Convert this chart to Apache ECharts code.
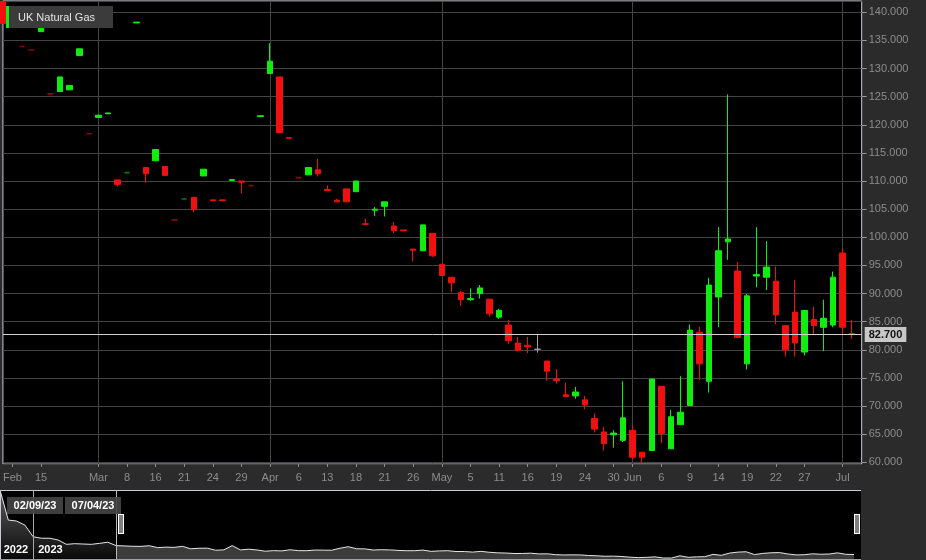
<!DOCTYPE html>
<html>
<head>
<meta charset="utf-8">
<script src="https://cdn.jsdelivr.net/npm/echarts@6/dist/echarts.min.js"></script>
<style>
html,body{margin:0;padding:0;background:#2b2b2b;}
#c{width:926px;height:560px;}
</style>
</head>
<body>
<div id="c"></div>
<script>
// ---------------- DATA ----------------
const seriesName = 'UK Natural Gas';

const dates = [
 '2023-02-09','2023-02-10','2023-02-13','2023-02-14','2023-02-15','2023-02-16','2023-02-20','2023-02-22','2023-02-24','2023-02-28',
 '2023-03-01','2023-03-02','2023-03-06','2023-03-08','2023-03-10','2023-03-14','2023-03-16','2023-03-17','2023-03-20','2023-03-21',
 '2023-03-22','2023-03-23','2023-03-24','2023-03-27','2023-03-28','2023-03-29','2023-03-30','2023-03-31','2023-04-03','2023-04-04',
 '2023-04-05','2023-04-06','2023-04-11','2023-04-12','2023-04-13','2023-04-14','2023-04-17','2023-04-18','2023-04-19','2023-04-20',
 '2023-04-21','2023-04-24','2023-04-25','2023-04-26','2023-04-27','2023-04-28','2023-05-02','2023-05-03','2023-05-04','2023-05-05',
 '2023-05-09','2023-05-10','2023-05-11','2023-05-12','2023-05-15','2023-05-16','2023-05-17','2023-05-18','2023-05-19','2023-05-22',
 '2023-05-23','2023-05-24','2023-05-25','2023-05-26','2023-05-30','2023-05-31','2023-06-01','2023-06-02','2023-06-05','2023-06-06',
 '2023-06-07','2023-06-08','2023-06-09','2023-06-12','2023-06-13','2023-06-14','2023-06-15','2023-06-16','2023-06-19','2023-06-20',
 '2023-06-21','2023-06-22','2023-06-23','2023-06-26','2023-06-27','2023-06-28','2023-06-29','2023-06-30','2023-07-03','2023-07-04',
 '2023-07-05'
];

const opens = [
 141.9,null,133.9,133.3,136.55,125.5,125.9,126.2,132.3,118.4,
 121.3,121.95,110.2,111.5,138.1,112.4,113.6,112.6,103.1,106.8,
 107.1,110.9,106.65,106.65,110.1,110.0,109.2,121.45,129.1,128.5,
 117.7,110.6,111.1,112.0,108.5,106.6,108.6,108.1,102.4,104.8,
 105.5,102.0,101.3,97.9,97.6,100.7,95.2,92.9,90.2,88.9,
 90.0,89.0,85.8,84.4,81.2,80.8,80.1,78.0,74.8,72.0,
 71.8,71.1,67.8,65.4,64.9,63.9,65.7,61.8,62.1,73.5,
 62.4,66.7,70.1,83.1,74.4,89.4,99.2,94.0,77.5,93.1,
 92.9,92.2,84.3,86.7,79.6,85.4,84.0,84.4,97.2,82.9,
 null
];
const closes = [
 138.0,null,133.9,133.3,137.35,125.5,128.5,127.0,133.5,118.4,
 121.7,122.1,109.4,111.5,138.25,111.3,115.6,111.0,103.1,106.8,
 105.0,112.1,106.5,106.5,110.25,109.8,109.2,121.6,131.3,118.6,
 117.6,110.6,112.4,111.3,108.3,106.3,106.3,110.0,102.3,105.0,
 106.3,101.2,101.15,97.7,102.2,96.7,93.2,91.9,88.9,89.1,
 91.0,86.4,87.0,81.6,79.9,80.5,80.1,76.2,74.5,71.7,
 72.5,70.2,65.9,63.3,65.2,67.9,60.9,60.9,74.8,65.1,
 68.1,68.9,83.5,77.5,91.5,97.6,99.7,82.2,89.6,93.4,
 94.7,86.2,80.0,81.2,87.0,84.3,85.6,92.9,84.0,82.7,
 null
];
const lows = [
 138.0,null,133.9,133.3,136.55,125.5,125.9,126.2,132.3,118.4,
 121.3,121.95,109.0,111.5,138.1,109.7,113.6,111.0,103.1,106.8,
 104.4,110.9,106.5,106.5,110.1,107.8,109.2,121.45,129.1,118.6,
 117.6,110.6,111.1,110.8,108.3,106.3,106.3,108.1,102.3,103.8,
 103.7,100.7,101.15,95.7,97.6,96.5,93.2,90.2,87.8,88.7,
 89.1,85.9,85.5,81.0,79.7,79.4,79.5,74.5,74.0,71.6,
 71.3,69.4,65.3,62.1,62.6,63.6,60.5,59.9,62.1,63.4,
 62.4,66.7,70.1,74.6,72.4,84.0,96.0,82.2,76.5,91.1,
 90.6,84.5,78.8,78.8,79.0,82.6,79.8,84.0,82.8,81.9,
 null
];
const highs = [
 141.9,null,133.9,133.3,137.35,125.5,128.5,127.0,133.5,118.4,
 121.7,122.1,110.2,111.5,138.25,112.4,115.6,112.6,103.1,106.8,
 107.1,112.1,106.65,106.65,110.25,110.0,109.2,121.6,134.5,128.5,
 117.7,110.6,112.4,113.9,109.2,106.8,108.6,110.0,103.3,105.4,
 106.3,102.7,101.3,97.9,102.2,100.7,95.2,92.9,90.5,90.9,
 91.5,89.0,87.3,85.3,82.3,82.3,82.6,78.0,76.6,74.1,
 73.4,71.8,68.7,66.3,65.7,74.4,66.5,61.8,74.8,73.5,
 69.3,75.3,84.5,84.1,92.8,101.8,125.4,95.6,89.9,101.8,
 99.3,94.8,84.3,92.4,87.0,87.6,88.9,93.9,97.9,85.3,
 null
];

// x-axis tick labels (date -> text)
const xTickDates = [
 '2023-02-10','2023-02-15','2023-03-01','2023-03-08','2023-03-16','2023-03-21','2023-03-24','2023-03-29',
 '2023-04-03','2023-04-06','2023-04-13','2023-04-18','2023-04-21','2023-04-26','2023-05-02','2023-05-05',
 '2023-05-11','2023-05-16','2023-05-19','2023-05-24','2023-05-30','2023-06-01','2023-06-06','2023-06-09',
 '2023-06-14','2023-06-19','2023-06-22','2023-06-27','2023-07-03'
];
const xTickLabels = [
 'Feb','15','Mar','8','16','21','24','29',
 'Apr','6','13','18','21','26','May','5',
 '11','16','19','24','30','Jun','6','9',
 '14','19','22','27','Jul'
];

// navigator history before the visible window
const navHistoryDates = [
 '2022-08-26','2022-09-28','2022-10-27','2022-11-29',
 '2023-01-04','2023-01-06','2023-01-11','2023-01-13','2023-01-18','2023-01-20','2023-01-25','2023-01-27','2023-02-01','2023-02-06'
];
const navHistory = [484, 297, 291, 266, 193, 184, 184, 173, 146, 150, 148, 146, 152, 159];

// ---------------- STYLE ----------------
const FONT = "'Liberation Sans', Arial, sans-serif";
const UP = '#10ee10', DOWN = '#f01010';
const DARK_UP = '#0a7a0a', DARK_DOWN = '#8a0a0a', DOJI = '#a0a0a0';
const GRID_LINE = '#444444';
const BORDER = '#c9ccd6';
const AXIS_TEXT = '#8c8c8c';

// ---------------- BUILD ----------------
const candleData = dates.map((d, i) => {
  if (opens[i] == null) return ['-', '-', '-', '-'];
  const o = opens[i], c = closes[i], l = lows[i], h = highs[i];
  const item = { value: [o, c, l, h] };
  if (o === c) {
    let col, bw = 1;
    if (h === l) {
      let prev = null;
      for (let j = i - 1; j >= 0; j--) { if (closes[j] != null) { prev = closes[j]; break; } }
      col = (prev != null && c >= prev) ? DARK_UP : DARK_DOWN;
      bw = 1.6;
    } else {
      col = DOJI;
    }
    item.itemStyle = { color: col, color0: col, borderColor: col, borderColor0: col, borderWidth: bw };
  }
  return item;
});

let lastIdx = closes.length - 1;
while (closes[lastIdx] == null) lastIdx--;
const lastClose = closes[lastIdx];

const isTick = (idx, val) => xTickDates.indexOf(val) >= 0;
const tickText = (val) => { const k = xTickDates.indexOf(val); return k >= 0 ? xTickLabels[k] : ''; };
const isMonthStart = (idx, val) => idx > 0 && dates[idx - 1].slice(5, 7) !== val.slice(5, 7);

// navigator: history + visible window closes (through last traded day)
const windowDates = dates.slice(0, lastIdx + 1);
const windowCloses = closes.slice(0, lastIdx + 1);
const navDates = navHistoryDates.concat(windowDates);
const nH = navHistory.length;
const navEarlyData = navDates.map((d, i) => i < nH ? navHistory[i] : (i === nH ? windowCloses[0] : '-'));
const navWindowData = navDates.map((d, i) => i < nH ? '-' : (windowCloses[i - nH] == null ? '-' : windowCloses[i - nH]));

const fmtDate = s => s.slice(5, 7) + '/' + s.slice(8, 10) + '/' + s.slice(2, 4);

const chart = echarts.init(document.getElementById('c'), null, { renderer: 'canvas' });

const option = {
  backgroundColor: '#2b2b2b',
  animation: false,
  textStyle: { fontFamily: FONT },
  grid: [
    { left: 1, right: 64.3, top: 1, bottom: 96, show: true, backgroundColor: '#000', borderColor: BORDER, borderWidth: 1 },
    { left: 0, right: 72, top: 491, bottom: 1, show: false }
  ],
  xAxis: [
    {
      type: 'category', gridIndex: 0, data: dates, boundaryGap: false,
      axisLine: { show: false },
      axisTick: { show: true, interval: isTick, length: 3, lineStyle: { color: '#8a8a8a' } },
      axisLabel: { interval: isTick, formatter: tickText, color: AXIS_TEXT, fontSize: 11, margin: 8, fontFamily: FONT },
      splitLine: { show: true, interval: isMonthStart, lineStyle: { color: GRID_LINE, width: 1 } }
    },
    { type: 'category', gridIndex: 1, data: navDates, boundaryGap: false, show: false }
  ],
  yAxis: [
    {
      type: 'value', gridIndex: 0, position: 'right', min: 59.7, max: 142, splitNumber: 16,
      axisLine: { show: false },
      axisTick: { show: true, length: 5, lineStyle: { color: '#9a9a9a' } },
      axisLabel: { color: AXIS_TEXT, fontSize: 11, margin: 7, fontFamily: FONT,
                   formatter: v => v.toFixed(3), showMinLabel: false, showMaxLabel: false },
      splitLine: { show: true, lineStyle: { color: GRID_LINE, width: 1 } }
    },
    { type: 'value', gridIndex: 1, min: 54.7, max: 478, show: false, splitLine: { show: false } }
  ],
  series: [
    {
      type: 'candlestick', name: seriesName, xAxisIndex: 0, yAxisIndex: 0,
      data: candleData, barWidth: 6, clip: false,
      itemStyle: { color: UP, color0: DOWN, borderColor: UP, borderColor0: DOWN, borderWidth: 1 },
      markLine: {
        silent: true, symbol: ['none', 'none'], animation: false,
        data: [{ yAxis: lastClose }],
        lineStyle: { color: '#d0d0d0', width: 1, type: 'solid' },
        label: {
          show: true, position: 'end', distance: 3, formatter: lastClose.toFixed(3),
          backgroundColor: '#c8c8c8', color: '#111', fontWeight: 'bold', fontSize: 11,
          padding: [2, 4], fontFamily: FONT
        }
      }
    },
    {
      type: 'line', xAxisIndex: 1, yAxisIndex: 1, data: navEarlyData, showSymbol: false, silent: true,
      lineStyle: { color: '#e6e6e6', width: 1 },
      areaStyle: { color: new echarts.graphic.LinearGradient(0, 0, 0, 1, [
        { offset: 0, color: '#5c5c5c' }, { offset: 1, color: '#0a0a0a' }]) , opacity: 1 }
    },
    {
      type: 'line', xAxisIndex: 1, yAxisIndex: 1, data: navWindowData, showSymbol: false, silent: true,
      connectNulls: true,
      lineStyle: { color: '#e6e6e6', width: 1 },
      areaStyle: { color: '#3c3c3c', opacity: 1 }
    }
  ]
};

chart.setOption(option);

// ---------- decorations positioned from the navigator axis ----------
const px = d => chart.convertToPixel({ xAxisIndex: 1 }, d);
const xStart = px(windowDates[0]);
const xEnd = px(windowDates[windowDates.length - 1]);
const first2023 = navDates.find(d => d.slice(0, 4) === '2023');
const xYear = px(first2023);
const navRight = 861;

function txt(text, x, y, opts) {
  return {
    type: 'text', z: 100,
    style: Object.assign({ text: text, x: x, y: y, fill: '#ffffff', font: '11px ' + FONT,
      align: 'left', verticalAlign: 'middle', textAlign: 'left', textVerticalAlign: 'middle' }, opts || {})
  };
}
function handle(x) {
  return [
    { type: 'rect', z: 100, shape: { x: x, y: 514, width: 6, height: 20 }, style: { fill: '#ffffff' } },
    { type: 'rect', z: 101, shape: { x: x + 1.5, y: 515, width: 1, height: 18 }, style: { fill: '#000' } },
    { type: 'rect', z: 101, shape: { x: x + 3.5, y: 515, width: 1, height: 18 }, style: { fill: '#000' } }
  ];
}

const g = [
  // navigator panel
  { type: 'rect', z: -10, shape: { x: 0, y: 490, width: navRight, height: 70 }, style: { fill: '#000' } },
  { type: 'line', z: 50, shape: { x1: 0, y1: 490.5, x2: navRight, y2: 490.5 }, style: { stroke: BORDER, lineWidth: 1 } },
  { type: 'line', z: 50, shape: { x1: 0.5, y1: 490, x2: 0.5, y2: 560 }, style: { stroke: BORDER, lineWidth: 1 } },
  { type: 'line', z: 50, shape: { x1: 0, y1: 559.5, x2: navRight, y2: 559.5 }, style: { stroke: '#9aa0ad', lineWidth: 1 } },
  // year divider and window edge
  { type: 'line', z: 50, shape: { x1: Math.round(xYear) + 0.5, y1: 491, x2: Math.round(xYear) + 0.5, y2: 559 }, style: { stroke: '#a8a8a8', lineWidth: 1 } },
  { type: 'line', z: 50, shape: { x1: Math.round(xStart) + 0.5, y1: 491, x2: Math.round(xStart) + 0.5, y2: 559 }, style: { stroke: '#b8b8b8', lineWidth: 1 } },
  // year labels
  txt('2022', xYear - 5, 550, { font: 'bold 11px ' + FONT, align: 'right', textAlign: 'right' }),
  txt('2023', xYear + 5, 550, { font: 'bold 11px ' + FONT }),
  // window date boxes
  { type: 'rect', z: 99, shape: { x: 7, y: 497, width: 56, height: 17 }, style: { fill: 'rgba(70,70,70,0.9)' } },
  { type: 'rect', z: 99, shape: { x: 65, y: 497, width: 56, height: 17 }, style: { fill: 'rgba(70,70,70,0.9)' } },
  txt(fmtDate(windowDates[0]), 35, 506, { font: 'bold 11px ' + FONT, align: 'center', textAlign: 'center' }),
  txt(fmtDate(windowDates[windowDates.length - 1]), 93, 506, { font: 'bold 11px ' + FONT, align: 'center', textAlign: 'center' }),
  // legend
  { type: 'rect', z: 99, shape: { x: 6, y: 6, width: 3, height: 22 }, style: { fill: UP } },
  { type: 'rect', z: 99, shape: { x: 9, y: 6, width: 104, height: 22 }, style: { fill: '#3b3b3b' } },
  txt(seriesName, 18, 17.5, { fill: '#e4e4e4', font: '11px ' + FONT })
].concat(handle(Math.round(xStart) + 2)).concat(handle(Math.round(xEnd)));

chart.setOption({ graphic: g });
</script>
</body>
</html>
